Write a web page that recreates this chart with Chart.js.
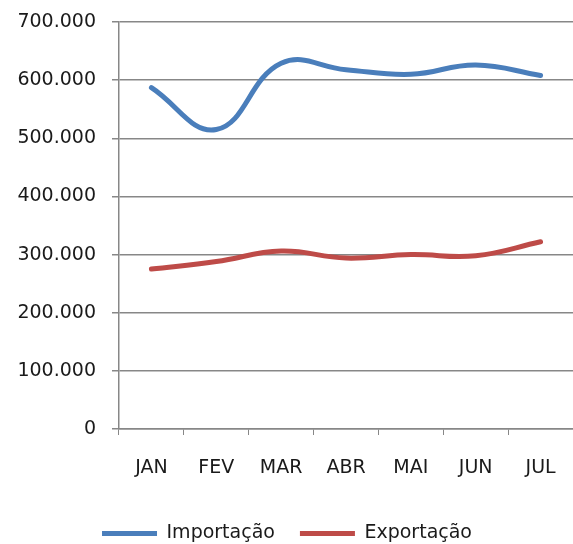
<!DOCTYPE html>
<html>
<head>
<meta charset="utf-8">
<script src="https://cdn.jsdelivr.net/npm/chart.js@4/dist/chart.umd.min.js"></script>
<style>
  html, body { margin: 0; padding: 0; background: #fff; }
  #wrap { width: 573px; height: 544px; }
</style>
</head>
<body>
<div id="wrap"><canvas id="grafico"></canvas></div>
<script>
const meses = ["JAN", "FEV", "MAR", "ABR", "MAI", "JUN", "JUL"]
const importacao = [587000, 515000, 629000, 618000, 610000, 626000, 608000]
const exportacao = [275000, 288000, 306000, 294000, 300000, 298000, 322000]
const yTicks = [0, 100000, 200000, 300000, 400000, 500000, 600000, 700000]

const fonte = { family: "DejaVu Sans", size: 19 }
const corGrade = "#878787"

function formatoPt(v) {
    return v.toLocaleString("pt-BR")
}

const config = {
    type: "line",
    data: {
        labels: meses,
        datasets: [
            {
                label: "Importação",
                data: importacao,
                borderColor: "#4A7EBB",
                backgroundColor: "#4A7EBB",
                borderWidth: 5,
                borderCapStyle: "round",
                pointRadius: 0,
                tension: 0.42
            },
            {
                label: "Exportação",
                data: exportacao,
                borderColor: "#BE4B48",
                backgroundColor: "#BE4B48",
                borderWidth: 5,
                borderCapStyle: "round",
                pointRadius: 0,
                tension: 0.42
            }
        ]
    },
    options: {
        responsive: true,
        maintainAspectRatio: false,
        animation: false,
        layout: { padding: { top: 22, left: 0, right: -1, bottom: -9 } },
        plugins: {
            tooltip: { enabled: false },
            legend: {
                position: "bottom",
                labels: {
                    color: "#1a1a1a",
                    font: fonte,
                    usePointStyle: true,
                    pointStyle: "line",
                    pointStyleWidth: 55,
                    padding: 25
                }
            }
        },
        scales: {
            x: {
                offset: true,
                grid: {
                    display: true,
                    drawOnChartArea: false,
                    offset: true,
                    tickLength: 6,
                    color: corGrade
                },
                border: { color: corGrade, width: 1.5 },
                ticks: { color: "#1a1a1a", font: fonte, padding: 22 },
                afterFit: (scale) => {
                    scale.height = 70
                    scale.paddingRight = 0
                    scale.paddingLeft = 0
                }
            },
            y: {
                min: 0,
                max: 700000,
                afterBuildTicks: (scale) => { scale.ticks = yTicks.map(v => ({ value: v })) },
                grid: { color: corGrade, lineWidth: 1.5, tickLength: 7 },
                border: { color: corGrade, width: 1.5 },
                ticks: {
                    color: "#1a1a1a",
                    font: fonte,
                    padding: 16,
                    callback: (v) => formatoPt(v)
                },
                afterFit: (scale) => {
                    scale.width = 119
                    scale.paddingTop = 0
                    scale.paddingBottom = 0
                }
            }
        }
    }
}

new Chart(document.getElementById("grafico"), config)
</script>
</body>
</html>
